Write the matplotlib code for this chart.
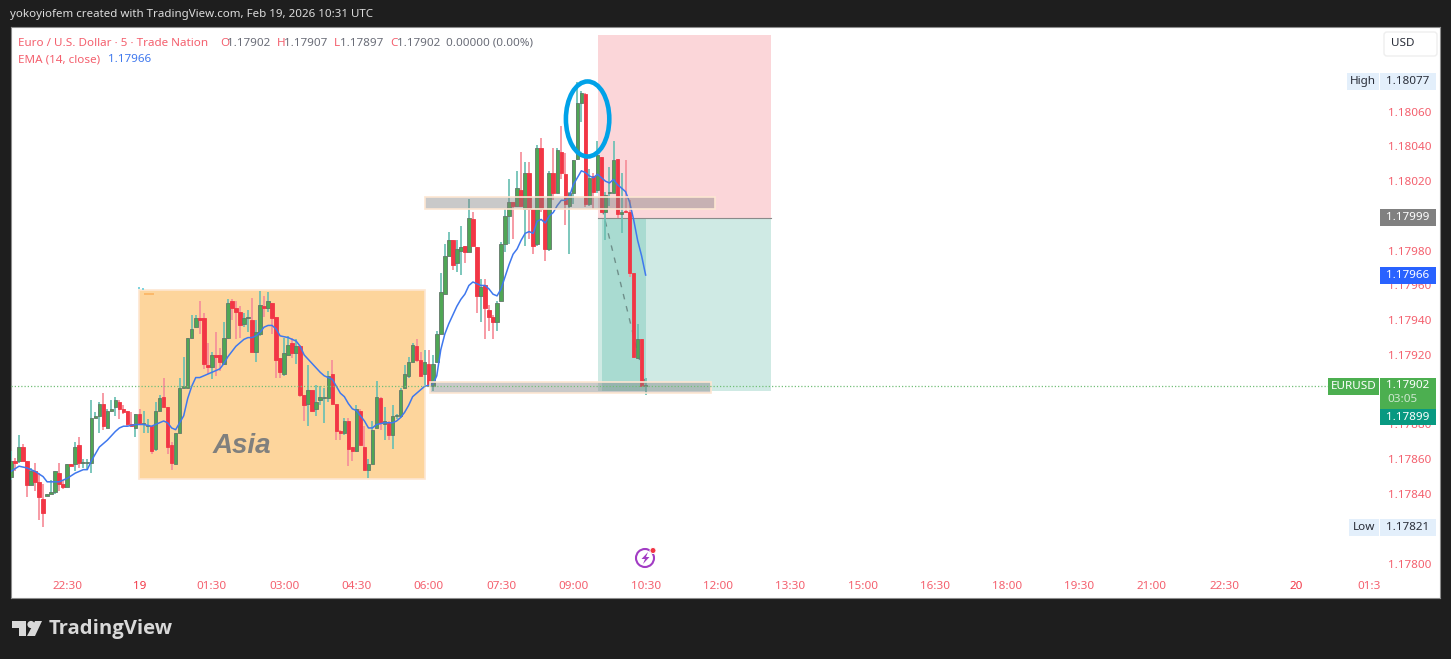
import matplotlib
matplotlib.use("Agg")
import matplotlib.pyplot as plt
from matplotlib.patches import Rectangle, Ellipse, Polygon, Circle, FancyBboxPatch

plt.rcParams['font.family'] = ['Noto Sans', 'DejaVu Sans']

W, H = 1451, 659
BASE = 1.17      # prices below are points above this level (1 point = 0.00001)

# first bar index; bars are 5 minutes apart, index 0 = 19 Feb 00:00
start_bar = -32
opens = [850,859,859,867,859,845,853,847,837,839,840,841,852,846,844,857,857,868,858,858,858,884,885,892,878,888,890,893,889,888,880,878,
 886,880,879,879,866,888,896,890,868,857,875,901,901,930,936,941,941,914,913,920,920,915,930,951,947,945,938,941,940,922,932,948,947,950,942,918,909,920,927,921,925,897,892,900,889,894,895,895,909,892,876,875,882,867,865,888,867,854,857,878,895,880,881,874,885,885,901,908,916,925,917,909,915,902,
 916,932,955,977,986,973,980,983,979,998,982,954,960,946,942,939,951,984,1000,1008,1006,1015,1004,1025,1004,984,1039,1004,981,1025,1013,1037,1024,1006,1013,1033,1065,1070,1007,1023,1015,1034,1002,1013,1013,1033,1001,1003,1002,967,918,929,902]
highs = [865,861,874,869,859,855,858,852,846,840,848,853,858,848,857,857,870,873,860,860,894,887,893,898,889,894,896,894,891,888,887,886,
 889,888,883,879,893,897,907,890,870,875,907,919,930,943,943,951,944,927,922,933,924,939,952,952,951,948,944,946,953,940,957,954,956,950,942,918,930,931,930,929,926,897,914,900,903,902,901,911,917,892,877,884,884,867,891,889,879,860,882,905,896,890,882,891,886,901,914,919,927,929,922,923,923,920,
 934,967,984,991,986,986,994,983,1010,1002,982,964,964,949,943,951,985,1004,1021,1008,1026,1037,1031,1031,1004,1041,1045,1004,1026,1039,1039,1052,1036,1014,1032,1077,1072,1071,1027,1025,1043,1034,1014,1028,1043,1033,1025,1032,1009,967,938,929,907]
lows = [848,853,858,859,838,845,842,825,821,839,840,840,842,843,844,856,853,855,855,854,852,884,875,877,878,887,885,883,886,879,879,873,
 880,875,875,863,865,888,890,863,854,857,875,901,901,930,936,932,912,909,906,908,911,915,929,940,929,930,936,933,922,916,931,942,945,932,907,907,908,920,918,915,896,882,879,887,885,891,881,893,892,871,871,874,856,859,864,868,854,849,857,878,877,871,871,866,883,884,901,907,916,916,908,903,902,899,
 916,932,955,977,969,968,966,973,979,983,944,939,929,934,929,934,951,979,984,987,1005,1005,983,987,978,983,1002,974,980,1009,1013,1021,995,978,1007,1032,1054,1005,1006,1004,1013,1002,986,1006,1013,999,990,1002,965,919,918,902,897]
closes = [859,858,867,859,845,853,847,838,829,840,841,853,846,844,857,856,867,858,858,858,884,885,892,879,888,889,894,889,887,880,879,886,
 880,880,879,865,888,895,890,867,858,875,901,902,930,935,941,940,915,913,920,919,916,930,950,947,945,937,941,941,922,933,949,947,951,941,917,910,921,926,921,925,897,891,900,888,893,896,895,908,892,876,875,882,866,865,889,868,854,857,877,896,881,882,874,885,885,900,909,916,926,917,908,916,902,915,
 932,956,977,986,972,981,982,979,999,983,954,959,947,942,939,950,984,1000,1008,1006,1016,1006,1025,1004,983,1039,1004,981,1025,1013,1038,1025,1007,1013,1032,1065,1071,1007,1022,1014,1035,1002,1012,1014,1032,1001,1002,1002,967,919,929,902,902]

ema_bars = [-32,-30,-28,-26,-24,-23,-22,-20,-18,-16,-14,-13,-12,-11,-10,-8,-6,-5,-4,-3,-1,1,3,5,6,7,8,9,10,11,12,13,14,15,17,19,20,21,22,24,25,26,27,28,29,30,31,32,33,34,35,37,38,39,40,41,43,45,46,47,48,49,50,51,52,53,54,55,56,57,58,59,61,63,64,65,66,67,68,69,70,71,73,
 74,75,76,77,78,79,80,81,82,83,84,85,86,87,88,89,90,91,92,93,94,95,96,97,98,99,100,101,102,103,104,105,106,107,108,109,110,111,112,113,114,115,116,117,118,119,120,121,122,123,124,125,126]
ema_vals = [853,856,855,853,850,847,847,847,849,852,854,854,859,863,867,871,876,878,879,879,880,880,879,881,882,881,878,877,881,885,895,902,907,907,909,911,912,915,919,925,927,929,930,930,931,933,936,937,937,935,931,930,929,928,925,920,915,910,908,907,906,902,898,896,892,889,888,885,882,878,878,880,881,881,882,884,887,891,896,898,900,902,903,
 908,923,932,938,943,948,952,955,960,962,961,960,960,958,955,954,958,965,972,978,981,986,990,991,990,997,998,996,1000,1002,1006,1009,1009,1011,1018,1022,1026,1025,1023,1022,1024,1022,1020,1019,1021,1018,1016,1014,1008,998,986,977,966]

x_tick_bars = [-18,0,18,36,54,72,90,108,126,144,162,180,198,216,234,252,270,288,306]
x_tick_labels = ['22:30','19','01:30','03:00','04:30','06:00','07:30','09:00','10:30','12:00','13:30','15:00','16:30','18:00','19:30','21:00','22:30','20','01:3']
y_tick_prices = [1.17800,1.17820,1.17840,1.17860,1.17880,1.17900,1.17920,1.17940,1.17960,1.17980,1.18000,1.18020,1.18040,1.18060,1.18080]

last_price = 902
entry_price = 999
stop_top = 1104
target_price = 899
zone_bars = [114.2, 157.2]
trade_bars = [115.2, 126.1]
asia_bars = [-0.1, 71.1]
asia_prices = [848.6, 957.4]
upper_band_bars = [71.1, 143.3]
upper_band_prices = [1004, 1011]
lower_band_bars = [72.3, 142.3]
lower_band_prices = [898, 904.5]

RED = '#f23645'
GREEN = '#4caf50'
AX_RED = '#f4606e'

def price(v):
    return BASE + v / 1e5

fig = plt.figure(figsize=(W / 100, H / 100), dpi=100, facecolor='#1e1e1e')
L, R, T, B = 11, 1440, 27, 598
ax = fig.add_axes([L / W, 1 - B / H, (R - L) / W, (B - T) / H], facecolor='white')
ax.set_xlim((L - 139.5) / 4.017, (R - 139.5) / 4.017)
ax.set_ylim(price(800 - (B - 563.5) / 1.7377), price(800 + (563.5 - T) / 1.7377))

# zones
ax.add_patch(Rectangle((zone_bars[0], price(entry_price)), zone_bars[1] - zone_bars[0], price(stop_top) - price(entry_price), fc='#fbd6d9', ec='none', zorder=1))
ax.add_patch(Rectangle((zone_bars[0], price(target_price)), zone_bars[1] - zone_bars[0], price(entry_price) - price(target_price), fc='#cfeae4', ec='none', zorder=1))
ax.add_patch(Rectangle((trade_bars[0], price(target_price)), trade_bars[1] - trade_bars[0], price(entry_price) - price(target_price), fc='#a9dbd1', ec='none', zorder=1.1))
ax.plot(zone_bars, [price(entry_price)] * 2, color='#8a8a8a', lw=0.8, zorder=1.2)
ax.add_patch(Rectangle((asia_bars[0], price(asia_prices[0])), asia_bars[1] - asia_bars[0], price(asia_prices[1]) - price(asia_prices[0]), fc='#fdd59c', ec='#fde6d2', lw=1.2, zorder=1))
ax.text(25.4, price(867.5), 'Asia', family=['Liberation Sans', 'DejaVu Sans'], fontsize=20, fontweight='bold', style='italic', color='#80807e', ha='center', va='center', zorder=1.5)
ax.plot([zone_bars[0] + 1, trade_bars[1]], [price(entry_price + 5), price(target_price + 3)], color='#6f8f8a', lw=1, ls=(0, (4, 5)), zorder=1.3)

# candles
for k, (o, h, l, c) in enumerate(zip(opens, highs, lows, closes)):
    i = start_bar + k
    up = c >= o
    ax.plot([i, i], [price(l), price(h)], color='#6cc0b3' if up else '#f68f9a', lw=1.25, solid_capstyle='butt', zorder=3)
    lo, hi = min(o, c), max(o, c)
    height = max(hi - lo, 0.6)
    ax.add_patch(Rectangle((i - 0.44, price(lo)), 0.88, price(lo + height) - price(lo),
                           fc='#4fa655' if up else RED, ec='#62786a' if up else RED, lw=0.6, zorder=3.2))

ax.plot(ema_bars, [price(v) for v in ema_vals], color='#3f78ee', lw=1.1, zorder=4)

# bands on top of candles
ax.add_patch(Rectangle((upper_band_bars[0], price(upper_band_prices[0])), upper_band_bars[1] - upper_band_bars[0], price(upper_band_prices[1]) - price(upper_band_prices[0]), fc=(0.5, 0.5, 0.5, 0.42), ec='#fde6d2', lw=1.2, zorder=4.5))
ax.add_patch(Rectangle((lower_band_bars[0], price(lower_band_prices[0])), lower_band_bars[1] - lower_band_bars[0], price(lower_band_prices[1]) - price(lower_band_prices[0]), fc=(0.5, 0.5, 0.5, 0.42), ec='#fde6d2', lw=1.2, zorder=4.5))
ax.axhline(price(last_price), xmax=(1330 - L) / (R - L), color='#72bf78', lw=0.9, ls=(0, (1, 1.6)), zorder=4.6)
ax.add_patch(Ellipse((111.55, price(1055.8)), 10.8, 43.2 / 1e5, fc='none', ec='#00a2e8', lw=3.3, zorder=5))

# axes
ax.set_xticks(x_tick_bars)
ax.set_xticklabels(x_tick_labels)
ax.set_yticks(y_tick_prices)
ax.set_yticklabels([f'{p:.5f}' for p in y_tick_prices])
ax.yaxis.tick_right()
ax.tick_params(axis='y', length=0, pad=-37.5, labelsize=8.4, labelcolor=AX_RED)
ax.tick_params(axis='x', length=0, pad=-12, labelsize=8.4, labelcolor=AX_RED)
for lab, txt in zip(ax.get_xticklabels(), x_tick_labels):
    if txt in ('19', '20'):
        lab.set_fontweight('bold')
        lab.set_color(RED)
for s in ax.spines.values():
    s.set_color('#8c8c8c')
    s.set_linewidth(0.8)

# overlay in pixel units for price tags, header and logo
ov = fig.add_axes([0, 0, 1, 1], facecolor='none')
ov.set_xlim(0, W)
ov.set_ylim(H, 0)
ov.axis('off')

def py(v):
    return H - ax.transData.transform((0, price(v)))[1]

def tag(x0, x1, yc, h, fc, txt, color, size=8.4):
    ov.add_patch(Rectangle((x0, yc - h / 2), x1 - x0, h, fc=fc, ec='none'))
    ov.text((x0 + x1) / 2, yc, txt, color=color, fontsize=size, ha='center', va='center')

high_tag, low_tag, ask_tag, ema_tag, bid_tag = 1077, 821, 999, 966, 899
tag(1347, 1379, py(high_tag) - 0.5, 17, '#e3effb', 'High', '#2a2e39')
tag(1380, 1436, py(high_tag) - 0.5, 17, '#e3effb', f'{price(high_tag):.5f}', '#2a2e39')
tag(1380, 1436, py(ask_tag), 17, '#808080', f'{price(ask_tag):.5f}', 'white')
tag(1380, 1436, py(ema_tag), 17, '#2962ff', f'{price(ema_tag):.5f}', 'white')
tag(1328, 1379, py(last_price), 17, GREEN, 'EURUSD', 'white')
ov.add_patch(Rectangle((1380, 378), 56, 31, fc=GREEN, ec='none'))
ov.text(1408, 386, f'{price(last_price):.5f}', color='white', fontsize=8.4, ha='center', va='center')
ov.text(1402, 400, '03:05', color='#cfe8d0', fontsize=8.4, ha='center', va='center')
tag(1380, 1436, 417, 16, '#089981', f'{price(bid_tag):.5f}', 'white')
tag(1349, 1379, py(low_tag), 17, '#e3effb', 'Low', '#2a2e39')
tag(1380, 1436, py(low_tag), 17, '#e3effb', f'{price(low_tag):.5f}', '#2a2e39')
ov.add_patch(FancyBboxPatch((1384, 32), 53, 24, boxstyle='round,pad=0,rounding_size=3', fc='white', ec='#eeeeee', lw=1))
ov.text(1403, 44, 'USD', color='#2a2e39', fontsize=8.4, ha='center', va='center')

# header
ov.text(10, 15, 'yokoyiofem created with TradingView.com, Feb 19, 2026 10:31 UTC', color='#dcdcdc', fontsize=8.3, ha='left', va='center')
def leg(x, y, s, c):
    ov.text(x, y, s, color=c, fontsize=8.4, ha='left', va='center')
GR = '#6a6d78'
leg(18, 43, 'Euro / U.S. Dollar · 5 · Trade Nation', AX_RED)
leg(220, 43, 'O', AX_RED); leg(227, 43, '1.17902', GR)
leg(277, 43, 'H', AX_RED); leg(284, 43, '1.17907', GR)
leg(334, 43, 'L', AX_RED); leg(340, 43, '1.17897', GR)
leg(390, 43, 'C', AX_RED); leg(397, 43, '1.17902', GR)
leg(446, 43, '0.00000 (0.00%)', GR)
leg(18, 60, 'EMA (14, close)', AX_RED)
leg(108, 60, '1.17966', '#3f78ee')

# small drawing handles at the top of the Asia box
ov.add_patch(Rectangle((144, 293), 10, 2, fc='#fbb96b', ec='none'))
ov.add_patch(Rectangle((138, 287), 2, 1.5, fc='#7fd3de', ec='none'))
ov.add_patch(Rectangle((142, 288), 1.5, 1.5, fc='#7fd3de', ec='none'))

# logo
LOGO = '#d9d9d9'
ov.add_patch(Polygon([(12, 621), (26, 621), (26, 636), (19, 636), (19, 628), (12, 628)], fc=LOGO, ec='none'))
ov.add_patch(Circle((31, 624.5), 3.6, fc=LOGO, ec='none'))
ov.add_patch(Polygon([(27, 636), (35, 636), (42, 621), (35, 621)], fc=LOGO, ec='none'))
ov.text(49, 629, 'TradingView', color=LOGO, fontsize=14.6, fontweight='bold', family=['Open Sans', 'DejaVu Sans'], ha='left', va='center')

# lightning badge
ov.add_patch(Circle((645, 558), 9, fc='white', ec='#a23cc4', lw=1.5))
ov.add_patch(Polygon([(648, 552), (641.5, 559), (645, 559), (643, 564), (649.5, 557), (646, 557)], fc='#a23cc4', ec='none'))
ov.add_patch(Circle((653, 550.5), 3, fc=RED, ec='white', lw=0.7))

fig.savefig('out.png', dpi=100, facecolor=fig.get_facecolor())
